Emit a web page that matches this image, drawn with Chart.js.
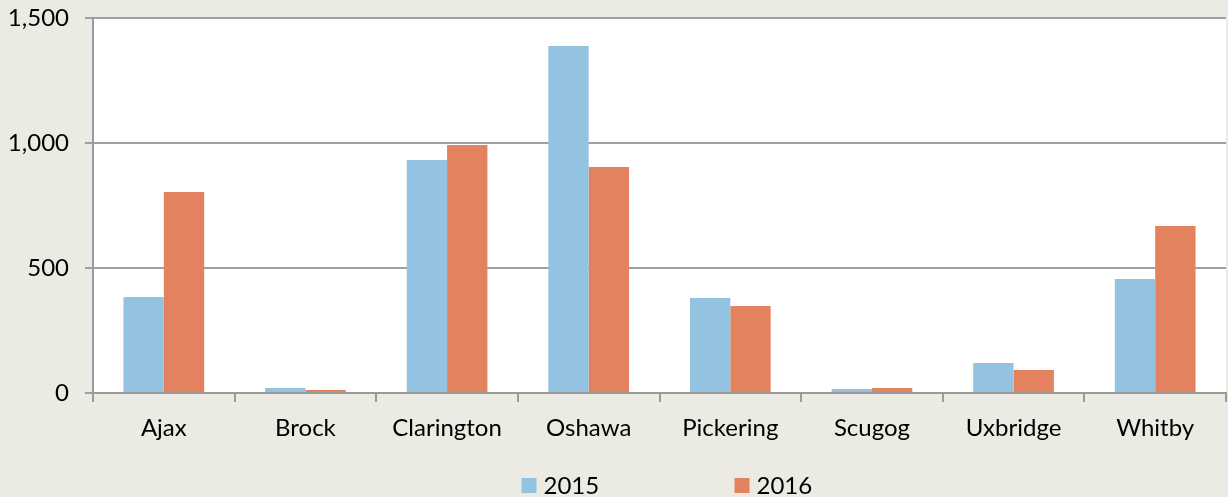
<!DOCTYPE html>
<html>
<head>
<meta charset="utf-8">
<script src="https://cdn.jsdelivr.net/npm/chart.js@4"></script>
<style>
  html, body { margin: 0; padding: 0; background: #ebebe3; }
  #chart { display: block; }
</style>
</head>
<body>
<canvas id="chart" width="1228" height="497"></canvas>
<script>
const towns = ["Ajax", "Brock", "Clarington", "Oshawa", "Pickering", "Scugog", "Uxbridge", "Whitby"];
const values2015 = [384, 20, 932, 1388, 380, 16, 120, 456];
const values2016 = [804, 12, 992, 904, 348, 20, 92, 668];
const yTicks = [0, 500, 1000, 1500];

const FONT = "Lato, 'Open Sans', sans-serif";

// white plot area on the grey page
const plotBackground = {
  id: "plotBackground",
  beforeDraw(chart) {
    const { ctx, chartArea: a } = chart;
    ctx.save();
    ctx.fillStyle = "#ffffff";
    ctx.fillRect(a.left, a.top, a.right - a.left, a.bottom - a.top);
    ctx.restore();
  }
};

// legend drawn by hand, Chart.js legend padding can't give the wide gap
const wideLegend = {
  id: "wideLegend",
  afterDraw(chart) {
    const { ctx } = chart;
    const cx = (chart.chartArea.left + chart.chartArea.right) / 2;
    const y = 485;
    ctx.save();
    ctx.font = "24px " + FONT;
    ctx.textBaseline = "middle";
    chart.data.datasets.forEach((ds, i) => {
      const x = cx - 138 + i * 213;
      ctx.fillStyle = ds.backgroundColor;
      ctx.fillRect(x, y - 7, 15, 15);
      ctx.fillStyle = "#000";
      ctx.fillText(ds.label, x + 22, y + 1);
    });
    ctx.restore();
  }
};

new Chart(document.getElementById("chart").getContext("2d"), {
  type: "bar",
  data: {
    labels: towns,
    datasets: [
      { label: "2015", data: values2015, backgroundColor: "#93c3e1" },
      { label: "2016", data: values2016, backgroundColor: "#e4825f" }
    ]
  },
  options: {
    responsive: false,
    animation: false,
    layout: { padding: { top: 18, right: 2, bottom: 44, left: 0 } },
    datasets: { bar: { categoryPercentage: 0.57, barPercentage: 1.0 } },
    plugins: {
      legend: { display: false },
      tooltip: { enabled: false }
    },
    scales: {
      x: {
        grid: {
          offset: true,
          drawOnChartArea: false,
          color: "#9a9a9a",
          lineWidth: 2,
          tickLength: 9
        },
        border: { color: "#9a9a9a", width: 2 },
        ticks: {
          color: "#000",
          font: { family: FONT, size: 24 },
          padding: 12,
          maxRotation: 0
        },
        afterFit(scale) {
          scale.height = 60;
          scale.paddingLeft = 0;
          scale.paddingRight = 0;
        }
      },
      y: {
        min: 0,
        max: 1500,
        afterBuildTicks(scale) { scale.ticks = yTicks.map(v => ({ value: v })); },
        grid: { color: "#a0a0a0", lineWidth: 2, tickLength: 8 },
        border: { color: "#9a9a9a", width: 2 },
        ticks: {
          color: "#000",
          font: { family: FONT, size: 24 },
          padding: 16,
          callback: v => v.toLocaleString("en-US")
        },
        afterFit(scale) {
          scale.width = 93;
          scale.paddingTop = 0;
          scale.paddingBottom = 0;
        }
      }
    }
  },
  plugins: [plotBackground, wideLegend]
});
</script>
</body>
</html>
